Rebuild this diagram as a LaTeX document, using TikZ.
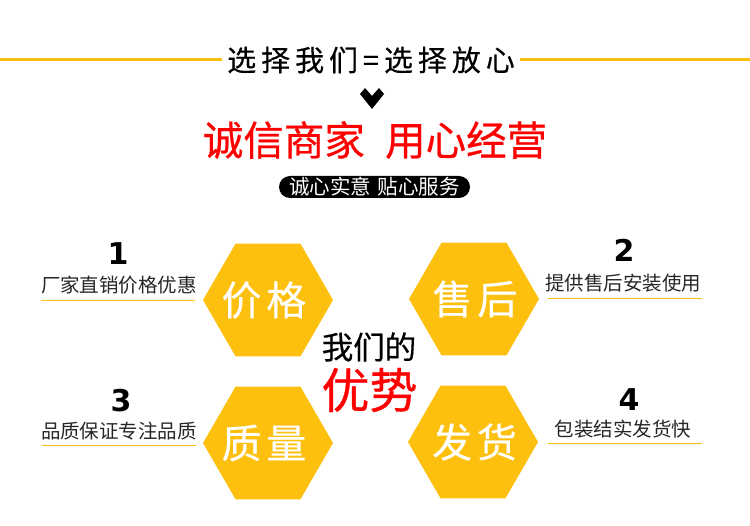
\documentclass[tikz,border=0pt]{standalone}
\usepackage{fontspec}
\setmainfont{Noto Sans CJK SC}
\newfontfamily\numfont{DejaVu Sans}
\usetikzlibrary{shapes.geometric,shapes.misc}
\definecolor{hexyellow}{HTML}{FDC00F}
\definecolor{titlered}{HTML}{FF0000}
\newcommand{\hexword}[2]{\makebox[0pt]{\kern#1 #2}}
\tikzset{
	hexcell/.style={regular polygon,regular polygon sides=6,fill=hexyellow,minimum size=130pt,inner sep=0pt,text=white,font=\fontsize{40}{40}\selectfont\addfontfeatures{LetterSpace=12,FakeBold=0.3}},
	numlabel/.style={font=\fontsize{30}{30}\numfont\bfseries,inner sep=0pt},
	caplabel/.style={font=\fontsize{19.5}{19.5}\selectfont,inner sep=0pt,text=black!85},
	yellowline/.style={draw=hexyellow,line width=1pt}
}
\begin{document}
\begin{tikzpicture}[x=1pt,y=-1pt]
	\useasboundingbox (0,0) rectangle (750,526);
	% header
	\node (title) at (371,60) [inner sep=0pt,font=\fontsize{29}{29}\selectfont\addfontfeatures{LetterSpace=17,FakeBold=0.3}] {选择我们=选择放心};
	\coordinate (lineL) at (0,60);
	\coordinate (lineLend) at (222,60);
	\coordinate (lineRstart) at (520,60);
	\coordinate (lineR) at (750,60);
	\draw[hexyellow,line width=3pt] (lineL)--(lineLend);
	\draw[hexyellow,line width=3pt] (lineRstart)--(lineR);
	\fill (360,94)--(365,88)--(372,96)--(379,88)--(384,94)--(372,109)--cycle;
	\node (slogan) at (375,140) [inner sep=0pt,text=titlered,font=\fontsize{40.5}{40.5}\selectfont\addfontfeatures{FakeBold=0.6}] {诚信商家\hspace{0.5em}用心经营};
	\node (pill) at (374.5,187) [rounded rectangle,fill=black,text=white,minimum width=191pt,minimum height=22pt,inner sep=0pt,font=\fontsize{20.5}{20.5}\selectfont] {诚心实意\hspace{0.3em}贴心服务};
	% hexagons
	\node (price) at (268,300) [hexcell] {\hexword{-8pt}{价格}};
	\node (after) at (474,299) [hexcell] {\hexword{2pt}{售后}};
	\node (quality) at (268,443) [hexcell] {\hexword{-8pt}{质量}};
	\node (ship) at (473,442) [hexcell] {\hexword{3pt}{发货}};
	% centre
	\node (ours) at (369,347) [inner sep=0pt,font=\fontsize{31.5}{31.5}\selectfont\addfontfeatures{FakeBold=0.4}] {我们的};
	\node (edge) at (369.5,390) [inner sep=0pt,text=titlered,font=\fontsize{48}{48}\selectfont\addfontfeatures{FakeBold=0.6}] {优势};
	% left and right labels
	\node (n1) at (118,254) [numlabel] {1};
	\node (c1) at (119,285) [caplabel] {厂家直销价格优惠};
	\node (n2) at (624,250.5) [numlabel] {2};
	\node (c2) at (623,283) [caplabel] {提供售后安装使用};
	\node (n3) at (121,401) [numlabel] {3};
	\node (c3) at (119,431) [caplabel] {品质保证专注品质};
	\node (n4) at (629,400) [numlabel] {4};
	\node (c4) at (623,429) [caplabel] {包装结实发货快};
	\coordinate (u1a) at (41,300.5); \coordinate (u1b) at (195,300.5);
	\coordinate (u2a) at (548,298.5); \coordinate (u2b) at (702,298.5);
	\coordinate (u3a) at (42,445.5); \coordinate (u3b) at (196,445.5);
	\coordinate (u4a) at (548,443.5); \coordinate (u4b) at (702,443.5);
	\foreach \i in {1,...,4}
		\draw[yellowline] (u\i a)--(u\i b);
\end{tikzpicture}
\end{document}
